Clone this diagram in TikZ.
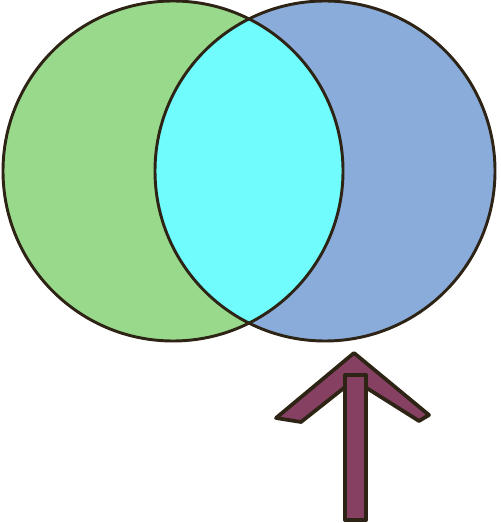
\documentclass[tikz,border=0pt]{standalone}
\usepackage{tikz}
\usetikzlibrary{backgrounds}
\definecolor{setgreen}{RGB}{153,217,140}
\definecolor{setblue}{RGB}{138,172,218}
\definecolor{setcyan}{RGB}{112,252,252}
\definecolor{arrowpurple}{RGB}{134,64,98}
\definecolor{inkbrown}{RGB}{46,36,22}
\begin{document}
\begin{tikzpicture}[x=0.75pt,y=-0.75pt,
  outline/.style={draw=inkbrown,line width=2.2pt,line join=round}]
\useasboundingbox (0,0) rectangle (500,523);
\coordinate (A) at (173,171);
\coordinate (B) at (325,171);
% the two sets
\fill[setgreen] (A) circle[radius=170];
\fill[setblue] (B) circle[radius=170];
\begin{scope}
\clip (A) circle[radius=170];
\fill[setcyan] (B) circle[radius=170];
\end{scope}
\draw[outline] (A) circle[radius=170];
\draw[outline] (B) circle[radius=170];
% arrow
\filldraw[outline,line width=2.8pt,fill=arrowpurple] (354,353) -- (429,415) -- (419,421) -- (354,380)
  -- (301,422) -- (276,418) -- cycle;
\filldraw[outline,line width=3pt,fill=arrowpurple] (345,375) rectangle (366,520);
\end{tikzpicture}
\end{document}
